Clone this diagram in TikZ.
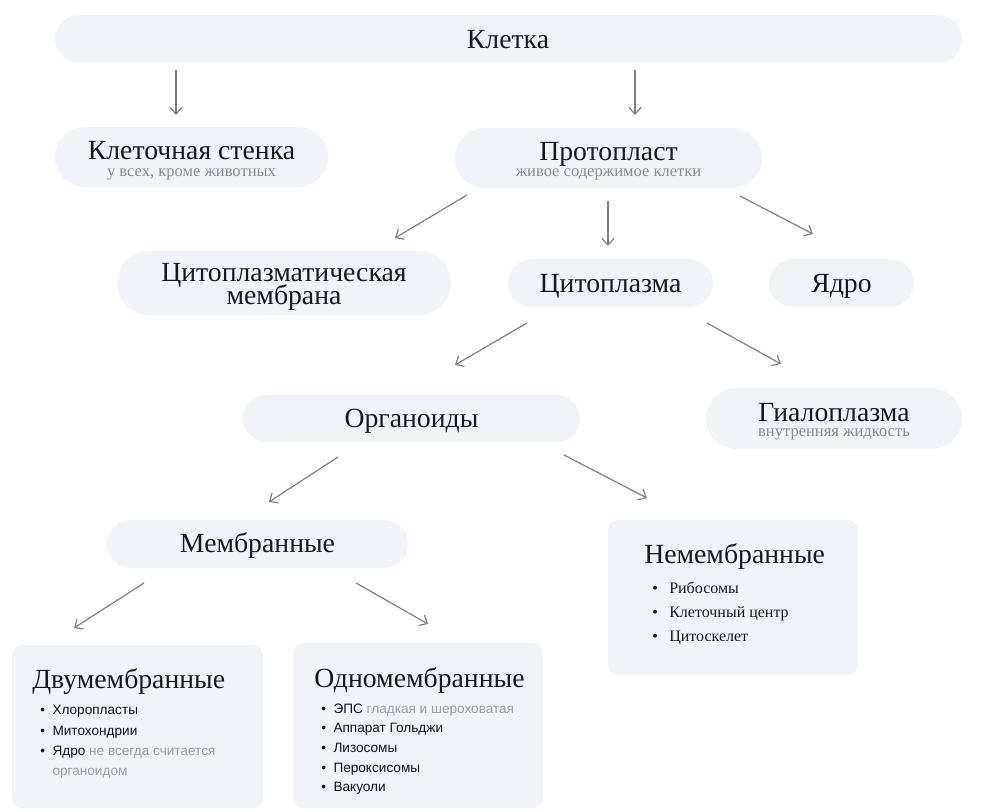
\documentclass[tikz,border=0pt]{standalone}
\usepackage{fontspec}
\setmainfont{Liberation Serif}
\newfontfamily\sansf{Liberation Sans}
\usetikzlibrary{shapes.misc,arrows.meta}
\definecolor{pillfill}{HTML}{F0F4F8}
\definecolor{ink}{HTML}{14182B}
\definecolor{subc}{HTML}{8A8A92}
\definecolor{arrowc}{HTML}{7E7E88}
\definecolor{lgray}{HTML}{9A9CA4}
\definecolor{itemc}{HTML}{0E1120}
\newcommand{\bul}[1]{\makebox[#1][l]{\textbullet}}
\begin{document}
\begin{tikzpicture}[x=0.75pt,y=-0.75pt,
 pill/.style={rounded rectangle, fill=pillfill, draw=none, inner sep=0pt},
 card/.style={rectangle, rounded corners=7.5pt, fill=pillfill, draw=none, inner sep=0pt},
 ttl/.style={anchor=base, inner sep=0pt, text=ink, font=\fontsize{20.8}{24}\selectfont},
 subt/.style={anchor=base, inner sep=0pt, text=subc, font=\fontsize{12.4}{14}\selectfont},
 ctl/.style={anchor=base west, inner sep=0pt, text=ink, font=\fontsize{20.8}{24}\selectfont},
 sitem/.style={anchor=base west, inner sep=0pt, text=itemc, font=\sansf\fontsize{10.2}{12}\selectfont},
 ritem/.style={anchor=base west, inner sep=0pt, text=ink, font=\fontsize{12}{14}\selectfont},
 arr/.style={draw=arrowc, line width=0.9pt, -{Straight Barb[length=5pt,width=9pt]}}
]
\useasboundingbox (0,0) rectangle (986,812);

% pills
\node[pill, minimum width=680.25pt, minimum height=36pt] (kletka) at (508.5,39) {};
\node[pill, minimum width=204.75pt, minimum height=45pt] (stenka) at (191.5,157) {};
\node[pill, minimum width=230.25pt, minimum height=45pt] (proto) at (608.5,158) {};
\node[pill, minimum width=250.5pt, minimum height=48pt] (cpm) at (284,283) {};
\node[pill, minimum width=153.75pt, minimum height=36pt] (cyto) at (610.5,283) {};
\node[pill, minimum width=108.75pt, minimum height=36pt] (yadro) at (841.5,283) {};
\node[pill, minimum width=252.75pt, minimum height=35.25pt] (organ) at (411.5,418.5) {};
\node[pill, minimum width=192pt, minimum height=45.75pt] (gialo) at (834,418.5) {};
\node[pill, minimum width=225.75pt, minimum height=36pt] (membr) at (257.5,544) {};
% cards
\node[card, minimum width=187.5pt, minimum height=116.25pt] (nemem) at (733,597.5) {};
\node[card, minimum width=188.25pt, minimum height=122.25pt] (dvu) at (137.5,726.5) {};
\node[card, minimum width=187.5pt, minimum height=123.75pt] (odno) at (418,725.5) {};

% texts
\node[ttl] (kletka-t) at (508,48.5) {Клетка};
\node[ttl] (stenka-t) at (191.5,160) {Клеточная стенка};
\node[subt] (stenka-s) at (191.5,176.5) {у всех, кроме животных};
\node[ttl] (proto-t) at (608.5,161) {Протопласт};
\node[subt] (proto-s) at (608.5,176.5) {живое содержимое клетки};
\node[ttl] (cpm-t1) at (284,282) {Цитоплазматическая};
\node[ttl] (cpm-t2) at (284,304.5) {мембрана};
\node[ttl] (cyto-t) at (610.5,292.5) {Цитоплазма};
\node[ttl] (yadro-t) at (841.5,292.5) {Ядро};
\node[ttl] (organ-t) at (411.5,428) {Органоиды};
\node[ttl] (gialo-t) at (834,422) {Гиалоплазма};
\node[subt] (gialo-s) at (834,436.5) {внутренняя жидкость};
\node[ttl] (membr-t) at (257.5,553) {Мембранные};

\node[ctl] (nemem-t) at (644,564) {Немембранные};
\node[ritem] (n1) at (652,594) {\bul{12.75pt}Рибосомы};
\node[ritem] (n2) at (652,618) {\bul{12.75pt}Клеточный центр};
\node[ritem] (n3) at (652,642) {\bul{12.75pt}Цитоскелет};

\node[ctl] (dvu-t) at (32,689) {Двумембранные};
\node[sitem] (d1) at (40,715) {\bul{9.2pt}Хлоропласты};
\node[sitem] (d2) at (40,735) {\bul{9.2pt}Митохондрии};
\node[sitem] (d3) at (40,755) {\bul{9.2pt}Ядро \textcolor{lgray}{не всегда считается}};
\node[sitem] (d4) at (52.3,775) {\textcolor{lgray}{органоидом}};

\node[ctl] (odno-t) at (314,687) {Одномембранные};
\node[sitem] (o1) at (321,713.5) {\bul{9.2pt}ЭПС \textcolor{lgray}{гладкая и шероховатая}};
\node[sitem] (o2) at (321,733) {\bul{9.2pt}Аппарат Гольджи};
\node[sitem] (o3) at (321,753) {\bul{9.2pt}Лизосомы};
\node[sitem] (o4) at (321,772.5) {\bul{9.2pt}Пероксисомы};
\node[sitem] (o5) at (321,792) {\bul{9.2pt}Вакуоли};

% arrow end points
\coordinate (a1s) at (176,70);   \coordinate (a1e) at (176,115);
\coordinate (a2s) at (635,70);   \coordinate (a2e) at (635,115);
\coordinate (a3s) at (467,195);  \coordinate (a3e) at (395,238);
\coordinate (a4s) at (608,201);  \coordinate (a4e) at (608,246);
\coordinate (a5s) at (740,196);  \coordinate (a5e) at (813,234);
\coordinate (a6s) at (527,323);  \coordinate (a6e) at (455,365);
\coordinate (a7s) at (707,323);  \coordinate (a7e) at (781,364);
\coordinate (a8s) at (338,457);  \coordinate (a8e) at (269,502);
\coordinate (a9s) at (564,455);  \coordinate (a9e) at (647,498);
\coordinate (a10s) at (144,583); \coordinate (a10e) at (74,628);
\coordinate (a11s) at (356,583); \coordinate (a11e) at (428,624);
\foreach \i in {1,...,11} \draw[arr] (a\i s) -- (a\i e);
\end{tikzpicture}
\end{document}
